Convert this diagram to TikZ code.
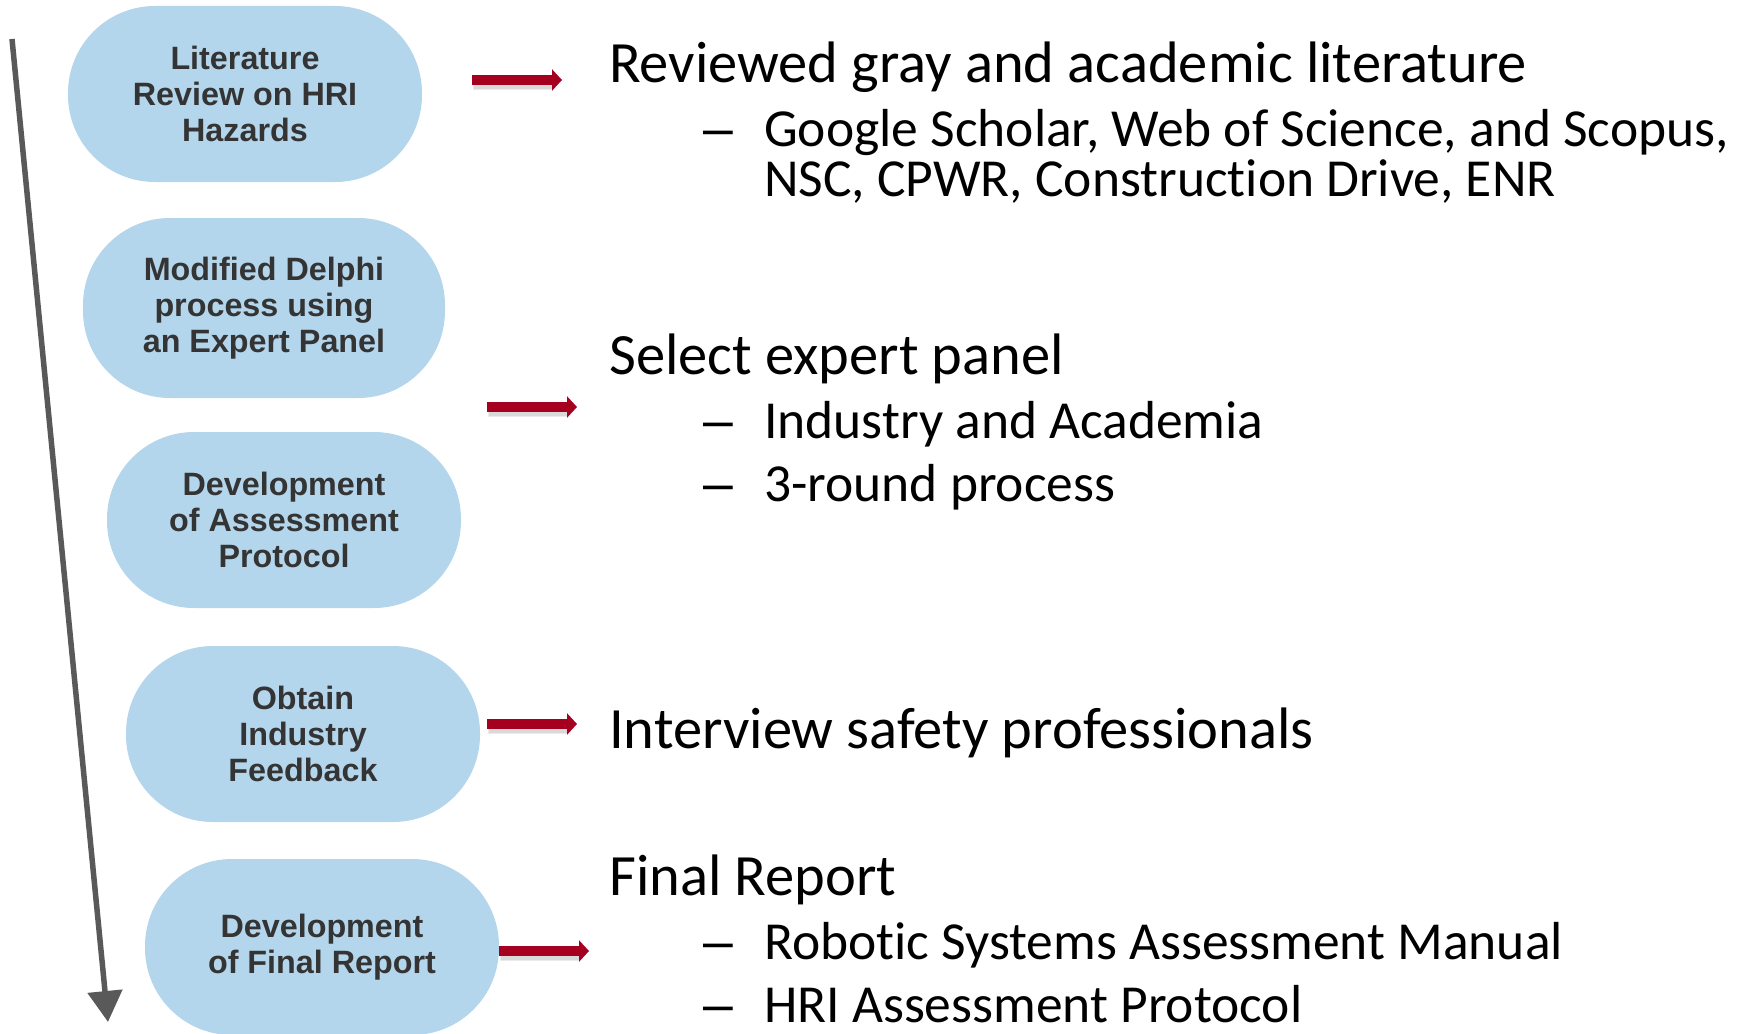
\documentclass[tikz,border=0pt]{standalone}
\usepackage{fontspec}
\setmainfont{Carlito}[Ligatures=NoCommon]
\newfontfamily\stagefont{Liberation Sans}
\usetikzlibrary{arrows.meta}
\definecolor{stagefill}{RGB}{180,214,236}
\definecolor{stagetext}{RGB}{52,52,52}
\definecolor{flowred}{RGB}{166,0,33}
\definecolor{timegray}{RGB}{89,89,89}
\begin{document}
\begin{tikzpicture}[x=1pt,y=-1pt,
  stage/.style={fill=stagefill, draw=none, rounded corners=87pt,
    minimum width=354pt, minimum height=176pt, inner sep=0pt,
    align=center, text=stagetext,
    font=\stagefont\bfseries\fontsize{32.3}{36}\selectfont},
  head/.style={anchor=base west, inner sep=0pt, font=\fontsize{58.5}{70}\selectfont},
  item/.style={anchor=base west, inner sep=0pt, font=\fontsize{53.5}{64}\selectfont},
  bullet/.style={anchor=base west, inner sep=0pt, font=\stagefont\fontsize{53.5}{64}\selectfont},
  pointer/.style={draw=flowred, line width=10pt, -{Triangle[width=21pt,length=10pt]}},
  pointershade/.style={draw=black, opacity=0.08, line width=12pt},
  timeline/.style={draw=timegray, line width=5.5pt, -{Triangle[width=34pt,length=31pt]}}
]
\useasboundingbox (0,0) rectangle (1742,1033);

% process stages
\node[stage] (s1) at (245,94) {Literature\\Review on HRI\\Hazards};
\node[stage, minimum width=362pt, minimum height=180pt] (s2) at (264,308) {Modified Delphi\\process using\\an Expert Panel};
\node[stage] (s3) at (284,520) {Development\\of Assessment\\Protocol};
\node[stage] (s4) at (303,734) {Obtain\\Industry\\Feedback};
\node[stage] (s5) at (322,947) {Development\\of Final Report};

% time axis
\coordinate (tstart) at (12,39);
\coordinate (tend) at (108,1022);
\draw[timeline] (tstart) -- (tend);

% descriptions
\node[head] (h1) at (609,82) {Reviewed gray and academic literature};
\node[bullet] (b1) at (703,146) {–};
\node[item] (i1) at (764,146) {Google Scholar, Web of Science, and Scopus,};
\node[item] (i1b) at (764,196) {NSC, CPWR, Construction Drive, ENR};

\node[head] (h2) at (609,374) {Select expert panel};
\node[bullet] (b2) at (703,438) {–};
\node[item] (i2) at (764,438) {Industry and Academia};
\node[bullet] (b3) at (703,501) {–};
\node[item] (i3) at (764,501) {3-round process};

\node[head] (h3) at (609,748) {Interview safety professionals};

\node[head] (h4) at (609,895) {Final Report};
\node[bullet] (b4) at (703,959) {–};
\node[item] (i4) at (764,959) {Robotic Systems Assessment Manual};
\node[bullet] (b5) at (703,1022) {–};
\node[item] (i5) at (764,1022) {HRI Assessment Protocol};

% red pointers from stages to descriptions, each with a soft shadow
\coordinate (p1s) at (472,80);  \coordinate (p1e) at (562,80);
\coordinate (p2s) at (487,407); \coordinate (p2e) at (577,407);
\coordinate (p3s) at (487,724); \coordinate (p3e) at (577,724);
\coordinate (p4s) at (499,951); \coordinate (p4e) at (589,951);
\foreach \a/\b in {p1s/p1e,p2s/p2e,p3s/p3e,p4s/p4e}{
  \draw[pointershade] ([shift={(1,4)}]\a) -- ([shift={(-8,4)}]\b);
  \draw[pointershade, line width=9pt] ([shift={(2,4)}]\a) -- ([shift={(-9,4)}]\b);
  \draw[pointer] (\a) -- (\b);
}
\end{tikzpicture}
\end{document}
